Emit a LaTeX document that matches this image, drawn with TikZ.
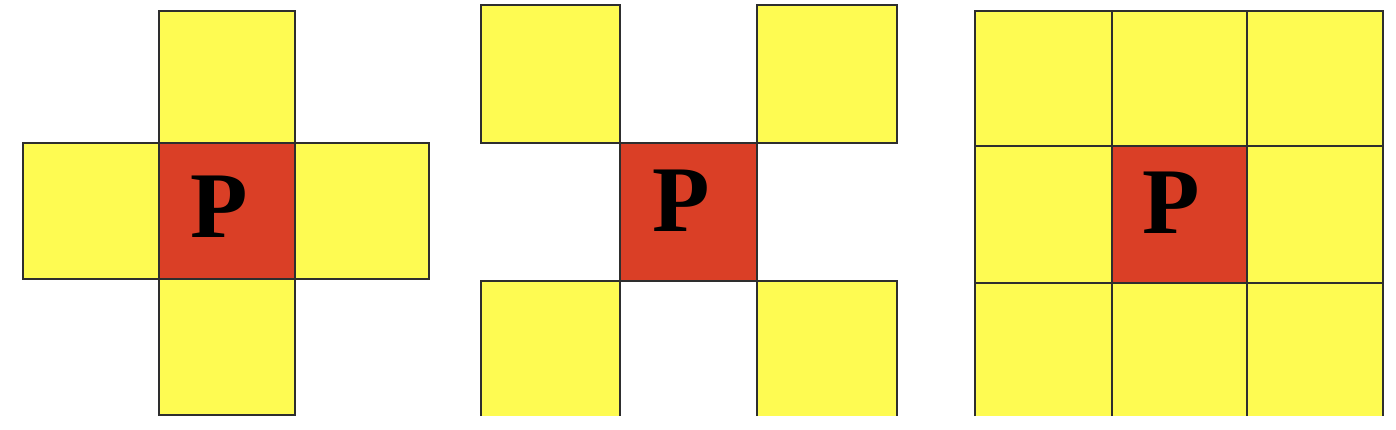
\documentclass[tikz,border=0pt]{standalone}
\usepackage{fontspec}
\setmainfont{Liberation Serif}
\definecolor{cellyellow}{HTML}{FEFB52}
\definecolor{cellred}{HTML}{DA3F26}
\definecolor{gridline}{HTML}{2E2E2E}
\begin{document}
\begin{tikzpicture}[x=1pt,y=-1pt,
  ycell/.style={fill=cellyellow,draw=gridline,line width=1.3pt},
  yfill/.style={fill=cellyellow},
  edge/.style={draw=gridline,line width=1.3pt},
  pcell/.style={fill=cellred,draw=gridline,line width=1.3pt},
  plabel/.style={anchor=base,inner sep=0pt,font=\fontsize{94}{94}\selectfont\bfseries}]
\useasboundingbox (0,0) rectangle (1396,430);
% ---- panel 1: 4-neighbourhood
\draw[ycell] (159,11) rectangle (295,143);
\draw[ycell] (23,143) rectangle (159,279);
\draw[ycell] (295,143) rectangle (429,279);
\draw[ycell] (159,279) rectangle (295,415);
\draw[pcell] (159,143) rectangle (295,279);
\node[plabel] (p1) at (219,237) {P};
% ---- panel 2: diagonal neighbourhood
\draw[ycell] (481,5) rectangle (620,143);
\draw[ycell] (757,5) rectangle (897,143);
\fill[yfill] (481,281) rectangle (620,416);
\fill[yfill] (757,281) rectangle (897,416);
\draw[edge] (481,416) -- (481,281) -- (620,281) -- (620,416);
\draw[edge] (757,416) -- (757,281) -- (897,281) -- (897,416);
\draw[pcell] (620,143) rectangle (757,281);
\node[plabel] (p2) at (681,232) {P};
% ---- panel 3: 8-neighbourhood
\fill[yfill] (975,11) rectangle (1383,416);
\draw[edge] (975,416) -- (975,11) -- (1383,11) -- (1383,416);
\draw[edge] (1112,11) -- (1112,416);
\draw[edge] (1247,11) -- (1247,416);
\draw[edge] (975,146) -- (1383,146);
\draw[edge] (975,283) -- (1383,283);
\draw[pcell] (1112,146) rectangle (1247,283);
\node[plabel] (p3) at (1171,234) {P};
\end{tikzpicture}
\end{document}
